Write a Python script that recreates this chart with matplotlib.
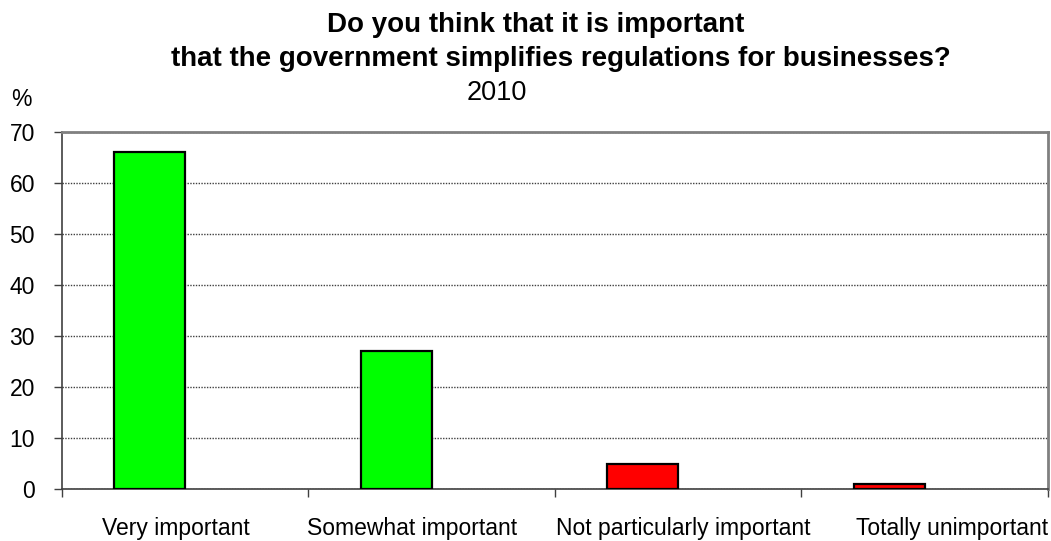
import matplotlib
matplotlib.use("Agg")
import matplotlib.pyplot as plt

categories = ["Very important", "Somewhat important", "Not particularly important", "Totally unimportant"]
values = [66, 27, 5, 1]
colors = ["#00ff00", "#00ff00", "#ff0000", "#ff0000"]
label_pos = [-0.04, 0.92, 2.02, 3.11]
yticks = [0, 10, 20, 30, 40, 50, 60, 70]

plt.rcParams['font.family'] = ['Liberation Sans', 'DejaVu Sans']

fig = plt.figure(figsize=(10.51, 5.41), dpi=100)
ax = fig.add_axes([0.059, 0.0956, 0.9381, 0.661])

x = list(range(len(categories)))
bar_x = [i - 0.144 for i in x]
ax.bar(bar_x, values, width=0.288, color=colors, edgecolor="black", linewidth=1.6, zorder=3)

ax.set_xlim(-0.5, 3.5)
ax.set_ylim(0, 70)
ax.set_yticks(yticks)
ax.yaxis.grid(True, linestyle=(0, (1, 1)), color="#404040", linewidth=1.0, zorder=0)
ax.tick_params(axis="y", length=6, width=1, color="#404040", labelsize=16.5, pad=13.5)

# ticks on category boundaries, labels placed separately
ax.set_xticks([i - 0.5 for i in range(len(categories) + 1)])
ax.set_xticklabels([])
ax.set_xticks(label_pos, minor=True)
ax.set_xticklabels(categories, minor=True)
ax.tick_params(axis="x", which="major", length=6, width=1, color="#404040")
ax.tick_params(axis="x", which="minor", length=0, labelsize=16.5, pad=20)

for side in ["left", "bottom"]:
    ax.spines[side].set_color("#404040")
    ax.spines[side].set_linewidth(1.2)
for side in ["top", "right"]:
    ax.spines[side].set_color("#808080")
    ax.spines[side].set_linewidth(2)

fig.text(535.5 / 1051, 1 - 32 / 541, "Do you think that it is important", ha="center", va="baseline",
         fontsize=20, fontweight="bold")
fig.text(561 / 1051, 1 - 66 / 541, "that the government simplifies regulations for businesses?", ha="center",
         va="baseline", fontsize=20, fontweight="bold")
fig.text(497 / 1051, 1 - 100 / 541, "2010", ha="center", va="baseline", fontsize=19.5)
fig.text(21 / 1051, 1 - 99 / 541, "%", ha="center", va="center", fontsize=16.5)

fig.savefig("out.png", dpi=100)
